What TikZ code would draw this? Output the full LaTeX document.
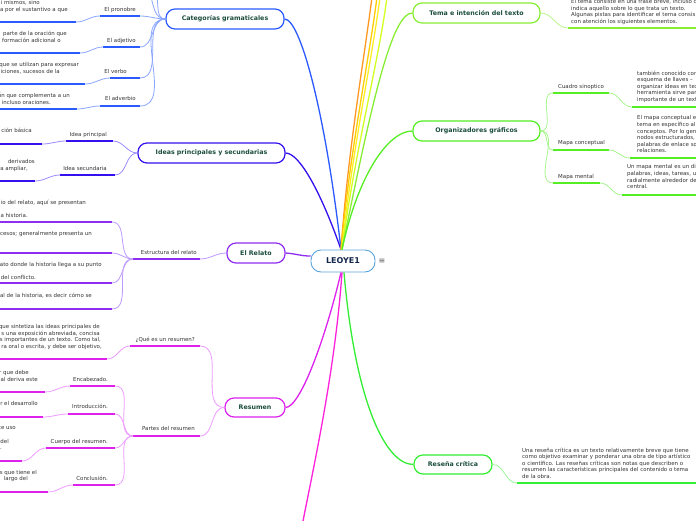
\documentclass[tikz,border=0pt]{standalone}
\usepackage{fontspec}
\setmainfont{DejaVu Sans}
\definecolor{catc}{HTML}{2B5BFF}
\definecolor{catl}{HTML}{8AA6FF}
\definecolor{ideac}{HTML}{3311EE}
\definecolor{ideal}{HTML}{9A8CFF}
\definecolor{relc}{HTML}{8F2EF0}
\definecolor{rell}{HTML}{BE9BFF}
\definecolor{resc}{HTML}{DD22EE}
\definecolor{resl}{HTML}{EE9CFF}
\definecolor{magc}{HTML}{FF22DD}
\definecolor{temac}{HTML}{88EE33}
\definecolor{temal}{HTML}{BDF58E}
\definecolor{orgc}{HTML}{55EE22}
\definecolor{orgl}{HTML}{A8F590}
\definecolor{rcc}{HTML}{33EE33}
\definecolor{rcl}{HTML}{9CF59C}
\definecolor{orangec}{HTML}{FF9922}
\definecolor{goldc}{HTML}{FFCC00}
\definecolor{yellc}{HTML}{FFEE22}
\definecolor{chartc}{HTML}{D4FF22}
\definecolor{titlec}{HTML}{1B4D3E}
\definecolor{roott}{HTML}{14284B}
\definecolor{rootb}{HTML}{5BA3DB}
\definecolor{descgray}{HTML}{333333}
\tikzset{
 desc/.style={anchor=north west, inner sep=0pt, align=left, text=descgray, font=\fontsize{5.45}{6.6}\selectfont},
 ldesc/.style={anchor=base east, inner sep=0pt, text=descgray, font=\fontsize{5.45}{6.6}\selectfont},
 lab/.style={inner sep=0pt, text=descgray, font=\fontsize{5.45}{6.6}\selectfont},
 topic/.style={draw, line width=1.2pt, rounded corners=9pt, fill=white, minimum height=20pt, inner sep=2pt, text=titlec, font=\bfseries\fontsize{6.3}{8}\selectfont},
 uline/.style={line width=1.8pt},
 subc/.style={line width=0.8pt},
 mainc/.style={line width=1.3pt},
}
\begin{document}
\begin{tikzpicture}[x=1pt,y=-1pt]
\useasboundingbox (0,0) rectangle (696,520);
\fill[white] (0,0) rectangle (696,520);
\clip (0,0) rectangle (696,520);

% ---------- central and topic nodes ----------
\node[draw=rootb, line width=0.9pt, rounded corners=10pt, fill=white, minimum width=64pt, minimum height=22pt, text=roott, font=\bfseries\fontsize{8}{9}\selectfont] (root) at (343,261) {LEOYE1};
\node[text=black!65, font=\fontsize{8}{8}\selectfont, inner sep=0pt] (menu) at (382,261) {≡};

\node[topic, draw=catc, minimum width=118pt] (cat) at (225,19) {Categorías gramaticales};
\node[topic, draw=ideac, minimum width=147pt] (idea) at (211.5,153) {Ideas principales y secundarias};
\node[topic, draw=relc, minimum width=58pt] (relato) at (256,253) {El Relato};
\node[topic, draw=resc, minimum width=60pt, minimum height=19pt] (resumen) at (255,407.5) {Resumen};
\node[topic, draw=temac, minimum width=127pt] (tema) at (476.5,13) {Tema e intención del texto};
\node[topic, draw=orgc, minimum width=127pt] (org) at (476.5,131) {Organizadores gráficos};
\node[topic, draw=rcc, minimum width=78pt, minimum height=19pt] (resena) at (453,464.5) {Reseña crítica};

% ---------- main connectors ----------
\coordinate (magend) at (302,526);
\coordinate (o1) at (372,-3);
\coordinate (o2) at (377,-3);
\coordinate (o3) at (380,-3);
\coordinate (o4) at (387,-3);
\draw[mainc,catc] ([xshift=-2pt]root.north) .. controls (325,110) and (300,19) .. (cat.east);
\draw[mainc,ideac] ([xshift=-2pt]root.north) .. controls (322,195) and (300,153) .. (idea.east);
\draw[mainc,relc] ([yshift=5pt]root.west) .. controls (300,256) and (298,254) .. (relato.east);
\draw[mainc,resc] ([xshift=-2pt]root.south) .. controls (325,340) and (300,407.5) .. (resumen.east);
\draw[mainc,magc] ([xshift=-1pt]root.south) .. controls (335,370) and (315,460) .. (magend);
\draw[mainc,orangec] ([xshift=-2pt]root.north) .. controls (348,150) and (364,60) .. (o1);
\draw[mainc,goldc] ([xshift=-2pt]root.north) .. controls (350,150) and (369,60) .. (o2);
\draw[mainc,yellc] ([xshift=-1pt]root.north) .. controls (352,150) and (372,60) .. (o3);
\draw[mainc,chartc] ([xshift=-1pt]root.north) .. controls (355,150) and (379,60) .. (o4);
\draw[mainc,temac] ([xshift=-1pt]root.north) .. controls (372,100) and (392,13) .. (tema.west);
\draw[mainc,orgc] ([xshift=-1pt]root.north) .. controls (358,175) and (388,131) .. (org.west);
\draw[mainc,rcc] ([xshift=1pt]root.south) .. controls (355,400) and (385,464.5) .. (resena.west);

% ---------- Categorías gramaticales ----------
\coordinate (pronL) at (100,16); \coordinate (pronR) at (140,16);
\coordinate (pronDL) at (0,22); \coordinate (pronDR) at (76,22);
\coordinate (adjL) at (103,47); \coordinate (adjR) at (140,47);
\coordinate (adjDL) at (0,53); \coordinate (adjDR) at (80,53);
\coordinate (verL) at (110,78); \coordinate (verR) at (140,78);
\coordinate (verDL) at (0,84); \coordinate (verDR) at (85,84);
\coordinate (advL) at (100,106); \coordinate (advR) at (140,106);
\coordinate (advDL) at (0,109); \coordinate (advDR) at (77,109);
\coordinate (catup1) at (151,-3); \coordinate (catup2) at (157,-3);
\draw[subc,catl] (cat.west) to[out=180,in=-75] (catup1);
\draw[subc,catl] (cat.west) to[out=180,in=-80] (catup2);
\foreach \n in {pron,adj,ver,adv}{
 \draw[subc,catl] (cat.west) to[out=180,in=0] (\n R);
 \draw[uline,catc] (\n L) -- (\n R);
 \draw[subc,catl] (\n L) to[out=180,in=0] (\n DR);
 \draw[uline,catc] (\n DL) -- (\n DR);
}
\node[lab, anchor=base east] (lpron) at (136,11.5) {El pronobre};
\node[lab, anchor=base east] (ladj) at (136,42.5) {El adjetivo};
\node[lab, anchor=base east] (lver) at (127,73.5) {El verbo};
\node[lab, anchor=base east] (ladv) at (136,100.5) {El adverbio};
\node[ldesc] (dpron1) at (40,4.5) {i mismos, sino};
\node[ldesc] (dpron2) at (68,11.5) {a por el sustantivo a que};
\node[ldesc] (dadj1) at (67,35.5) {parte de la oración que};
\node[ldesc] (dadj2) at (61,42.5) {formación adicional o};
\node[ldesc] (dver1) at (79,66.5) {que se utilizan para expresar};
\node[ldesc] (dver2) at (60,73.5) {iciones, sucesos de la};
\node[ldesc] (dadv1) at (70,97.5) {ón que complementa a un};
\node[ldesc] (dadv2) at (51,104.5) {incluso oraciones.};

% ---------- Ideas principales y secundarias ----------
\coordinate (ipL) at (66,141); \coordinate (ipR) at (113,141);
\coordinate (ipDL) at (0,144); \coordinate (ipDR) at (42,144);
\coordinate (isL) at (60,175); \coordinate (isR) at (115,175);
\coordinate (isDL) at (0,181); \coordinate (isDR) at (35,181);
\foreach \n in {ip,is}{
 \draw[subc,ideal] (idea.west) to[out=180,in=0] (\n R);
 \draw[uline,ideac] (\n L) -- (\n R);
 \draw[subc,ideal] (\n L) to[out=180,in=0] (\n DR);
 \draw[uline,ideac] (\n DL) -- (\n DR);
}
\node[lab, anchor=base east] (lip) at (107,136.5) {Idea principal};
\node[lab, anchor=base east] (lis) at (107,170.5) {Idea secundaria};
\node[ldesc] (dip) at (32,132.5) {ción básica};
\node[ldesc] (dis1) at (35,163.5) {derivados};
\node[ldesc] (dis2) at (28,170.5) {ra ampliar,};

% ---------- El Relato ----------
\coordinate (erL) at (133,259); \coordinate (erR) at (200,259);
\draw[subc,rell] (relato.west) to[out=180,in=0] (erR);
\draw[uline,relc] (erL) -- (erR);
\node[lab, anchor=base east] (ler) at (197,254.5) {Estructura del relato};
\coordinate (r1L) at (0,222); \coordinate (r1R) at (112,222);
\coordinate (r2L) at (0,253); \coordinate (r2R) at (112,253);
\coordinate (r3L) at (0,283); \coordinate (r3R) at (112,283);
\coordinate (r4L) at (0,309); \coordinate (r4R) at (112,309);
\foreach \n in {r1,r2,r3,r4}{
 \draw[subc,rell] (erL) to[out=180,in=0] (\n R);
 \draw[uline,relc] (\n L) -- (\n R);
}
\node[ldesc] (dr1a) at (86,204.5) {io del relato, aquí se presentan};
\node[ldesc] (dr1b) at (28,217.5) {la historia.};
\node[ldesc] (dr2) at (92,235.5) {cesos; generalmente presenta un};
\node[ldesc] (dr3a) at (102,266.5) {ato donde la historia llega a su punto};
\node[ldesc] (dr3b) at (36,279.5) {del conflicto.};
\node[ldesc] (dr4) at (92,297.5) {al de la historia, es decir cómo se};

% ---------- Resumen ----------
\coordinate (qL) at (130,346); \coordinate (qR) at (200,346);
\coordinate (qDL) at (0,359); \coordinate (qDR) at (107,359);
\coordinate (pL) at (133,436); \coordinate (pR) at (200,436);
\draw[subc,resl] (resumen.west) to[out=180,in=0] (qR);
\draw[subc,resl] (resumen.west) to[out=180,in=0] (pR);
\draw[uline,resc] (qL) -- (qR);
\draw[subc,resl] (qL) to[out=180,in=0] (qDR);
\draw[uline,resc] (qDL) -- (qDR);
\draw[uline,resc] (pL) -- (pR);
\node[lab, anchor=base east] (lq) at (195,341.5) {¿Qué es un resumen?};
\node[lab, anchor=base east] (lp) at (195,430.5) {Partes del resumen};
\node[ldesc] (dq1) at (100,328.5) {que sintetiza las ideas principales de};
\node[ldesc] (dq2) at (100,335.1) {s una exposición abreviada, concisa};
\node[ldesc] (dq3) at (101,341.6) {s importantes de un texto. Como tal,};
\node[ldesc] (dq4) at (102,348) {ra oral o escrita, y debe ser objetivo,};
\coordinate (encL) at (70,386); \coordinate (encR) at (115,386);
\coordinate (encDL) at (0,392); \coordinate (encDR) at (45,392);
\coordinate (intL) at (68,414); \coordinate (intR) at (115,414);
\coordinate (intDL) at (0,417); \coordinate (intDR) at (43,417);
\coordinate (cueL) at (46,448); \coordinate (cueR) at (115,448);
\coordinate (cueDL) at (0,461); \coordinate (cueDR) at (22,461);
\coordinate (conL) at (73,485); \coordinate (conR) at (115,485);
\coordinate (conDL) at (0,492); \coordinate (conDR) at (48,492);
\foreach \n in {enc,int,cue,con}{
 \draw[subc,resl] (pL) to[out=180,in=0] (\n R);
 \draw[uline,resc] (\n L) -- (\n R);
 \draw[subc,resl] (\n L) to[out=180,in=0] (\n DR);
 \draw[uline,resc] (\n DL) -- (\n DR);
}
\node[lab, anchor=base east] (lenc) at (108,381.5) {Encabezado.};
\node[lab, anchor=base east] (lint) at (108,408.5) {Introducción.};
\node[lab, anchor=base east] (lcue) at (108,443.5) {Cuerpo del resumen.};
\node[lab, anchor=base east] (lcon) at (108,480.5) {Conclusión.};
\node[ldesc] (denc1) at (29,374.5) {r que debe};
\node[ldesc] (denc2) at (38,381.5) {al deriva este};
\node[ldesc] (dint) at (38,405.5) {r el desarrollo};
\node[ldesc] (dcue1) at (16,429.5) {ce uso};
\node[ldesc] (dcue2) at (9,443.5) {del};
\node[ldesc] (dcue3) at (2,449) {.};
\node[ldesc] (dcon1) at (37,474.5) {s que tiene el};
\node[ldesc] (dcon2) at (28,480.5) {largo del};

% ---------- Tema e intención del texto ----------
\coordinate (temaDL) at (568,28); \coordinate (temaDR) at (700,28);
\draw[subc,temal] (tema.east) to[out=0,in=180] (temaDL);
\draw[uline,temac] (temaDL) -- (temaDR);
\node[desc] (dtema) at (571,-0.8) {El tema consiste en una frase breve, incluso c\\indica aquello sobre lo que trata un texto.\\Algunas pistas para identificar el tema consis\\con atención los siguientes elementos.};

% ---------- Organizadores gráficos ----------
\coordinate (cuL) at (553,93); \coordinate (cuR) at (609,93);
\coordinate (cuDL) at (632,107); \coordinate (cuDR) at (700,107);
\coordinate (mcL) at (553,150); \coordinate (mcR) at (609,150);
\coordinate (mcDL) at (630,158); \coordinate (mcDR) at (700,158);
\coordinate (mmL) at (553,183); \coordinate (mmR) at (600,183);
\coordinate (mmDL) at (622,195); \coordinate (mmDR) at (700,195);
\foreach \n in {cu,mc,mm}{
 \draw[subc,orgl] (org.east) to[out=0,in=180] (\n L);
 \draw[uline,orgc] (\n L) -- (\n R);
 \draw[subc,orgl] (\n R) to[out=0,in=180] (\n DL);
 \draw[uline,orgc] (\n DL) -- (\n DR);
}
\node[lab, anchor=base west] (lcu) at (558,88.5) {Cuadro sinoptico};
\node[lab, anchor=base west] (lmc) at (558,144.5) {Mapa conceptual};
\node[lab, anchor=base west] (lmm) at (558,178.5) {Mapa mental};
\node[desc] (dcu) at (637,70.5) {también conocido como\\esquema de llaves –\\organizar ideas en texto\\herramienta sirve para\\importante de un texto};
\node[desc] (dmc) at (637,115.5) {El mapa conceptual es\\tema en específico al\\conceptos. Por lo general\\nodos estructurados,\\palabras de enlace son\\relaciones.};
\node[desc] (dmm) at (627,164.5) {Un mapa mental es un diagrama\\palabras, ideas, tareas, u\\radialmente alrededor de\\central.};

% ---------- Reseña crítica ----------
\coordinate (rcDL) at (517,483); \coordinate (rcDR) at (700,483);
\draw[subc,rcl] (resena.east) to[out=0,in=180] (rcDL);
\draw[uline,rcc] (rcDL) -- (rcDR);
\node[desc] (drc) at (522,447.5) {Una reseña crítica es un texto relativamente breve que tiene\\como objetivo examinar y ponderar una obra de tipo artístico\\o científico. Las reseñas críticas son notas que describen o\\resumen las características principales del contenido o tema\\de la obra.};
\end{tikzpicture}
\end{document}
